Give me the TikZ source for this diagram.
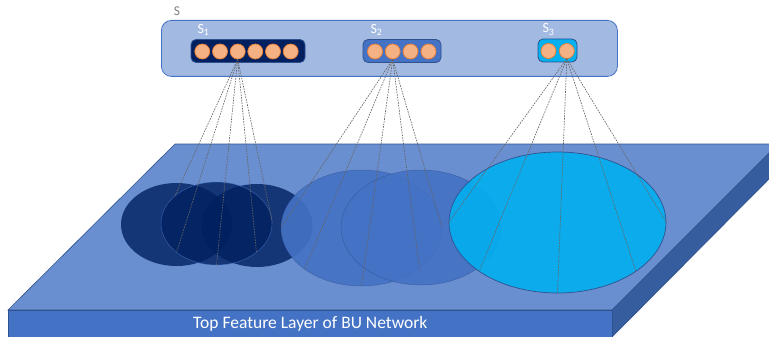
\documentclass[tikz,border=0pt]{standalone}
\usepackage{fontspec}
\setmainfont{Carlito}
\usetikzlibrary{shapes.geometric}

\definecolor{facetop}{HTML}{6A8FD0}
\definecolor{facefront}{HTML}{4472C4}
\definecolor{faceside}{HTML}{365D9E}
\definecolor{edgeblue}{HTML}{2F528F}
\definecolor{panelfill}{HTML}{A2B9E2}
\definecolor{navy}{HTML}{002060}
\definecolor{midblue}{HTML}{4472C4}
\definecolor{cyanblue}{HTML}{00B0F0}
\definecolor{unitfill}{HTML}{F4B183}
\definecolor{unitedge}{HTML}{ED7D31}
\definecolor{linkgray}{HTML}{666666}
\definecolor{labelgray}{HTML}{7F7F7F}

\tikzset{
  unit/.style={circle, fill=unitfill, draw=unitedge, line width=0.7pt,
    minimum size=15pt, inner sep=0pt},
  group/.style={rounded corners=5pt, draw=edgeblue, line width=0.8pt},
  region/.style={ellipse, inner sep=0pt},
  link/.style={draw=linkgray, line width=0.65pt, dash pattern=on 1.6pt off 1.1pt},
  sublabel/.style={text=white, font=\fontsize{14}{15}\selectfont, inner sep=0pt},
}

\begin{document}
\begin{tikzpicture}[x=1pt, y=-1pt]
\useasboundingbox (0,0) rectangle (769,337);
\clip (0,0) rectangle (769,337);

% slab: top face, front face, side face
\fill[facetop, draw=edgeblue, line width=0.6pt] (8,310) -- (612,310) -- (778,144) -- (175,144) -- cycle;
\fill[faceside, draw=edgeblue, line width=0.6pt] (612,310) -- (778,144) -- (778,170) -- (612,337) -- cycle;
\node[fill=facefront, draw=edgeblue, line width=0.6pt, minimum width=604pt, minimum height=27pt,
  inner sep=0pt, anchor=north west, text=white, font=\fontsize{17.5}{19}\selectfont] (front) at (8,310)
  {Top Feature Layer of BU Network};

% receptive regions of S1
\node[region, fill=navy, fill opacity=0.8, minimum width=111pt, minimum height=83pt] (e11) at (176.5,224.5) {};
\node[region, fill=navy, fill opacity=0.8, minimum width=111pt, minimum height=83pt] (e13) at (257,225.5) {};
\node[region, fill=navy, fill opacity=0.8, draw=midblue, draw opacity=0.7, line width=0.5pt,
  minimum width=111pt, minimum height=83pt] (e12) at (216.5,223.5) {};

% receptive regions of S2
\node[region, fill=midblue, fill opacity=0.9, draw=edgeblue, draw opacity=0.6, line width=0.5pt,
  minimum width=161pt, minimum height=116pt] (e21) at (361.5,228) {};
\node[region, fill=midblue, fill opacity=0.9, draw=edgeblue, draw opacity=0.6, line width=0.5pt,
  minimum width=160pt, minimum height=115pt] (e22) at (421,227.5) {};

% receptive region of S3
\node[region, fill=cyanblue, fill opacity=0.88, draw=edgeblue, line width=0.7pt,
  minimum width=217pt, minimum height=141pt] (e31) at (557.5,222.5) {};

% panel S with its three groups
\node[fill=panelfill, draw=midblue, line width=0.8pt, rounded corners=10pt,
  minimum width=456pt, minimum height=56pt, inner sep=0pt, anchor=north west] (panel) at (161,20) {};
\node[text=labelgray, font=\fontsize{13.5}{14}\selectfont, inner sep=0pt] (slabel) at (177,11) {S};

\node[group, fill=navy, minimum width=114pt, minimum height=23pt, inner sep=0pt] (g1) at (248,51) {};
\node[group, fill=midblue, minimum width=78pt, minimum height=23pt, inner sep=0pt] (g2) at (402,51) {};
\node[group, fill=cyanblue, minimum width=39pt, minimum height=23pt, inner sep=0pt] (g3) at (557.5,50.5) {};

\node[sublabel] (s1) at (203.5,30) {S\textsubscript{1}};
\node[sublabel] (s2) at (376.5,30) {S\textsubscript{2}};
\node[sublabel] (s3) at (548.5,29.5) {S\textsubscript{3}};

\foreach \i/\x in {1/202.3, 2/220, 3/237.7, 4/255.3, 5/273, 6/290.7}
  \node[unit] (u1\i) at (\x,51.5) {};
\foreach \i/\x in {1/375, 2/392.7, 3/410.5, 4/428.5}
  \node[unit] (u2\i) at (\x,51.5) {};
\foreach \i/\x in {1/548.5, 2/566.8}
  \node[unit] (u3\i) at (\x,51) {};

% links from units to their receptive regions
\foreach \a in {146, 216, 270, 324, 2}
  \draw[link] (u13.south) -- (e12.\a);
\foreach \a in {180, 216, 270, 325, 0}
  \draw[link] (u22.south) -- (e21.\a);
\foreach \a in {180, 212, 270, 328, 0}
  \draw[link] (u32.south) -- (e31.\a);
\end{tikzpicture}
\end{document}
